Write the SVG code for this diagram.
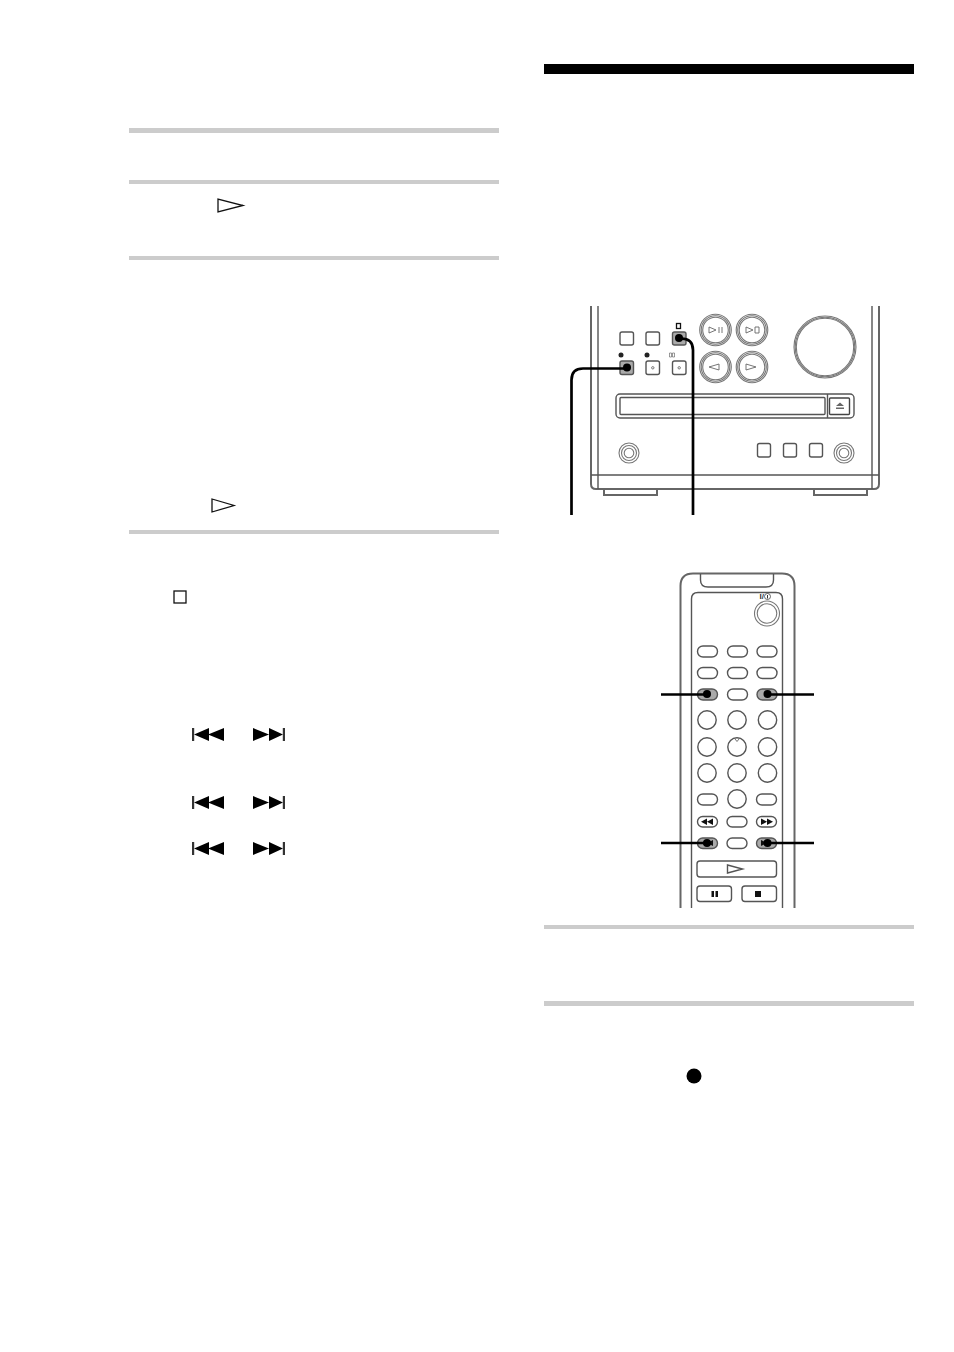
<svg xmlns="http://www.w3.org/2000/svg" width="954" height="1352" viewBox="0 0 954 1352">
<defs>
<style>
.rule{fill:#ccc}
.o{fill:none;stroke:#555;stroke-width:1.4}
.rim{fill:none;stroke:#666;stroke-width:2}
.b{fill:#fff;stroke:#555;stroke-width:1.4}
.h{fill:#aaa;stroke:#555;stroke-width:1.4}
.k{fill:none;stroke:#000;stroke-width:2.7}
.t{fill:none;stroke:#111;stroke-width:1.3}
.ring{fill:#fff;stroke:#777;stroke-width:1.1}
.ic{fill:none;stroke:#666;stroke-width:.9}
</style>
<g id="skipL"><rect x="0" y="-6.500" width="2.200" height="13" fill="#333"/><path d="M2 0L17-6.500V6.500ZM16 0L32-6.500V6.500Z" fill="#000"/></g>
<g id="skipR"><path d="M0-6.500L16 0L0 6.500ZM16-6.500L30 0L16 6.500Z" fill="#000"/><rect x="29.800" y="-6.500" width="2.200" height="13" fill="#333"/></g>
</defs>
<rect width="954" height="1352" fill="#fff"/>
<g id="page-rules">
<rect x="544" y="64" width="370" height="10" fill="#000"/>
<rect class="rule" x="129" y="128" width="370" height="5"/>
<rect class="rule" x="129" y="180" width="370" height="4"/>
<rect class="rule" x="129" y="256" width="370" height="4"/>
<rect class="rule" x="129" y="530" width="370" height="4"/>
<rect class="rule" x="544" y="925" width="370" height="4"/>
<rect class="rule" x="544" y="1001" width="370" height="5"/>
</g>
<g id="inline-symbols">
<path class="t" d="M218 199V212L243 205.500Z"/>
<path class="t" d="M212 499V512L234 505.500Z"/>
<rect class="t" x="174" y="591" width="12" height="12"/>
<use href="#skipL" x="192" y="734.500"/><use href="#skipR" x="253" y="734.500"/>
<use href="#skipL" x="192" y="802.500"/><use href="#skipR" x="253" y="802.500"/>
<use href="#skipL" x="192" y="848.500"/><use href="#skipR" x="253" y="848.500"/>
<circle cx="694" cy="1076" r="7.500" fill="#000"/>
</g>
<g id="main-unit">
<path class="rim" d="M591 306V484Q591 489 596 489H874Q879 489 879 484V306"/>
<path class="o" d="M598 306V489M872 306V489M591 475H879"/>
<path class="rim" d="M604 490V495H657V490M814 490V495H867V490"/>
<rect class="b" x="620" y="332" width="13.500" height="13" rx="2"/>
<rect class="b" x="646" y="332" width="13.500" height="13" rx="2"/>
<rect class="h" x="672.500" y="332" width="13.500" height="13" rx="2"/>
<rect class="t" x="676.500" y="323.500" width="4" height="5" stroke-width="1"/>
<circle cx="621" cy="355" r="2.500" fill="#222"/><circle cx="647" cy="355" r="2.500" fill="#222"/>
<path d="M669.500 353h2v4h-2zM672.500 353h2v4h-2z" fill="none" stroke="#555" stroke-width=".6"/>
<rect class="h" x="620" y="361" width="13.500" height="13.500" rx="2"/>
<rect class="b" x="646" y="361" width="13.500" height="13.500" rx="2"/><circle cx="652.800" cy="367.800" r="1.200" class="ic"/>
<rect class="b" x="672.500" y="361" width="13.500" height="13.500" rx="2"/><circle cx="679.200" cy="367.800" r="1.200" class="ic"/>
<g id="round-buttons">
<circle class="ring" cx="715.500" cy="330" r="15.800"/><circle class="ring" cx="715.500" cy="330" r="14.300"/><circle class="ring" cx="715.500" cy="330" r="12.800"/>
<circle class="ring" cx="752" cy="330" r="15.800"/><circle class="ring" cx="752" cy="330" r="14.300"/><circle class="ring" cx="752" cy="330" r="12.800"/>
<circle class="ring" cx="715.500" cy="367" r="15.800"/><circle class="ring" cx="715.500" cy="367" r="14.300"/><circle class="ring" cx="715.500" cy="367" r="12.800"/>
<circle class="ring" cx="752" cy="367" r="15.800"/><circle class="ring" cx="752" cy="367" r="14.300"/><circle class="ring" cx="752" cy="367" r="12.800"/>
<path class="ic" d="M709 327V333L716 330ZM719 327V333M722 327V333M746 327V333L753 330ZM755 327V333H759V327Z"/>
<path class="ic" d="M719 364V370L709 367ZM746 364V370L756 367Z"/>
<circle class="ring" cx="825" cy="347" r="31"/><circle class="ring" cx="825" cy="347" r="29.800"/><circle class="ring" cx="825" cy="347" r="28.700"/>
</g>
<rect class="o" x="616" y="394" width="238" height="24" rx="4"/>
<rect class="o" x="620" y="397.500" width="205" height="17" rx="1"/>
<path class="o" d="M827.500 394V418"/>
<rect x="829.500" y="398" width="20" height="16.500" rx="1" fill="#fff" stroke="#444" stroke-width="1.400"/>
<path d="M836 406L840 402.500L844 406ZM836 407.500H844V409H836Z" fill="#666"/>
<circle class="ring" cx="629" cy="453" r="10"/><circle class="ring" cx="629" cy="453" r="7.500"/><circle class="ring" cx="629" cy="453" r="4.800"/>
<circle class="ring" cx="844" cy="453" r="10"/><circle class="ring" cx="844" cy="453" r="7.500"/><circle class="ring" cx="844" cy="453" r="4.800"/>
<rect class="b" x="757.500" y="443.500" width="13" height="13.500" rx="2"/>
<rect class="b" x="783.500" y="443.500" width="13" height="13.500" rx="2"/>
<rect class="b" x="809.500" y="443.500" width="13" height="13.500" rx="2"/>
</g>
<g id="remote">
<path class="rim" d="M680.500 908V586Q680.500 573.500 693 573.500H782Q794.500 573.500 794.500 586V908"/>
<path class="o" d="M700.500 574V580Q700.500 587 708 587H766Q773.500 587 773.500 580V574"/>
<path class="o" d="M691.500 908V599Q691.500 592.500 698 592.500H776Q782.500 592.500 782.500 599V908"/>
<circle class="ring" cx="767" cy="613.500" r="12.500"/><circle class="ring" cx="767" cy="613.500" r="9.800"/>
<text x="759.500" y="599" font-family="'Liberation Sans',sans-serif" font-size="8" font-weight="bold" fill="#333">I/</text>
<path d="M767.500 595V598.500" fill="none" stroke="#333"/><circle cx="767.500" cy="596.500" r="3" fill="none" stroke="#444" stroke-width=".8"/>
<g id="remote-keys">
<rect class="b" x="697.500" y="646" width="20" height="11" rx="5.500"/><rect class="b" x="727.500" y="646" width="20" height="11" rx="5.500"/><rect class="b" x="757" y="646" width="20" height="11" rx="5.500"/>
<rect class="b" x="697.500" y="667.500" width="20" height="11" rx="5.500"/><rect class="b" x="727.500" y="667.500" width="20" height="11" rx="5.500"/><rect class="b" x="757" y="667.500" width="20" height="11" rx="5.500"/>
<rect class="h" x="697.500" y="689" width="20" height="11" rx="5.500"/><rect class="b" x="727.500" y="689" width="20" height="11" rx="5.500"/><rect class="h" x="757" y="689" width="20" height="11" rx="5.500"/>
<circle class="b" cx="707" cy="720" r="9.200"/><circle class="b" cx="737" cy="720" r="9.200"/><circle class="b" cx="767.500" cy="720" r="9.200"/>
<circle class="b" cx="707" cy="747" r="9.200"/><circle class="b" cx="737" cy="747" r="9.200"/><circle class="b" cx="767.500" cy="747" r="9.200"/>
<path class="ic" d="M735 739L737 741.500L739 739"/>
<circle class="b" cx="707" cy="773" r="9.200"/><circle class="b" cx="737" cy="773" r="9.200"/><circle class="b" cx="767.500" cy="773" r="9.200"/>
<rect class="b" x="697.500" y="794" width="20" height="11" rx="5.500"/><circle class="b" cx="737" cy="799" r="9.200"/><rect class="b" x="756.500" y="794" width="20" height="11" rx="5.500"/>
<rect class="b" x="697.500" y="816.500" width="20" height="10.500" rx="5.200"/><rect class="b" x="727" y="816.500" width="20" height="10.500" rx="5.200"/><rect class="b" x="756.500" y="816.500" width="20" height="10.500" rx="5.200"/>
<path d="M701 821.700L707 818.500V825ZM707 821.700L713 818.500V825ZM761 818.500L767 821.700L761 825ZM767 818.500L773 821.700L767 825Z" fill="#111"/>
<rect class="h" x="697.500" y="838" width="20" height="10.500" rx="5.200"/><rect class="b" x="727" y="838" width="20" height="10.500" rx="5.200"/><rect class="h" x="756.500" y="838" width="20" height="10.500" rx="5.200"/>
<path d="M701 843L707 840V846ZM707 843L713 840V846ZM761 840L767 843L761 846ZM767 840L773 843L767 846Z" fill="#111"/>
<rect class="b" x="697" y="861" width="79.500" height="16" rx="3"/>
<path class="o" d="M727.500 865V873L742.500 869Z"/>
<rect class="b" x="697" y="886" width="34.500" height="15.500" rx="3"/><rect class="b" x="742" y="886" width="34.500" height="15.500" rx="3"/>
<path d="M711.500 891h2.500v6H711.500zM715.500 891h2.500v6H715.500zM755 891h6v6h-6z" fill="#111"/>
</g>
</g>
<g id="connectors">
<path class="k" d="M571.500 515V380Q571.500 368.500 583 368.500H627"/>
<path class="k" d="M693 515V350Q693 338.500 681 338.500H679"/>
<path class="k" d="M661 694.500H707M768 694.500H814M661 843H707M768 843H814"/>
<circle cx="627" cy="367.500" r="4"/><circle cx="679" cy="338" r="4"/>
<circle cx="707" cy="694" r="4"/><circle cx="767.500" cy="694" r="4"/>
<circle cx="707" cy="843" r="4"/><circle cx="767.500" cy="843" r="4"/>
</g>
</svg>
